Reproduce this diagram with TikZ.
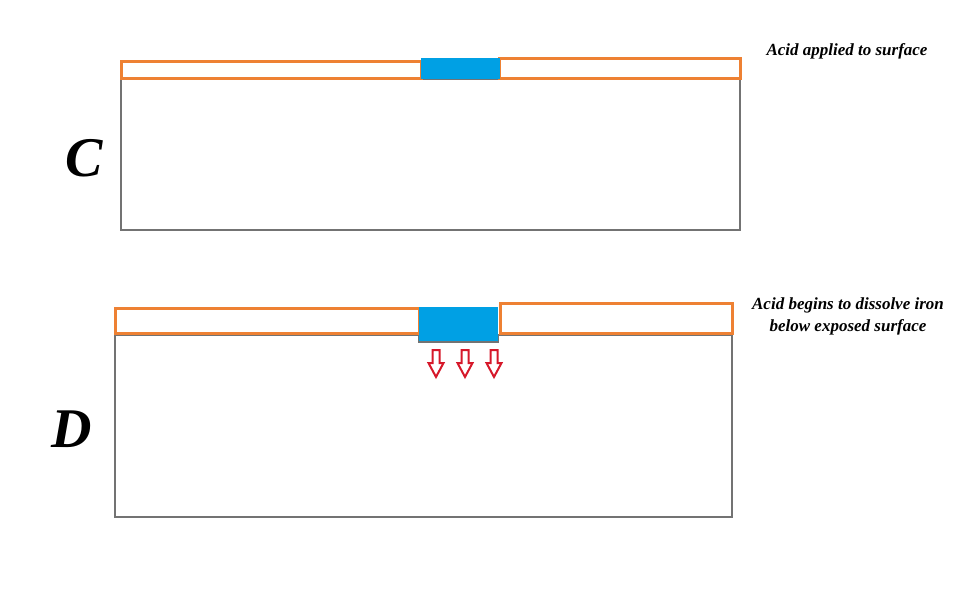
\documentclass[tikz,border=0pt]{standalone}
\usepackage{fontspec}
\setmainfont{Liberation Serif}
\definecolor{acidblue}{HTML}{00A0E4}
\definecolor{coatorange}{HTML}{EE8133}
\definecolor{irongray}{HTML}{737373}
\definecolor{pitred}{HTML}{D6182A}
\begin{document}
\begin{tikzpicture}[x=1pt,y=-1pt,
    iron/.style={draw=irongray,line width=2.8pt},
    coat/.style={draw=coatorange,fill=white,line width=3pt},
    acid/.style={fill=acidblue},
    pit/.style={draw=pitred,fill=white,line width=2pt},
    note/.style={font=\bfseries\itshape\fontsize{17}{22}\selectfont,align=center},
    panel/.style={font=\bfseries\itshape\fontsize{56}{56}\selectfont}]
    \useasboundingbox (0,0) rectangle (980,613);
    % panel C
    \draw[iron] (121,79) rectangle (740,230);
    \draw[coat] (121,61) rectangle (421,78);
    \draw[coat] (499,58) rectangle (740,78);
    \fill[acid] (421,58) rectangle (500,79);
    \node[panel] (labC) at (84,158) {C};
    \node[note] (noteC) at (847,51) {Acid applied to surface};
    % panel D
    \draw[iron] (115,335) -- (419,335) -- (419,342) -- (498,342) -- (498,335)
      -- (732,335) -- (732,517) -- (115,517) -- cycle;
    \draw[coat] (115,308) rectangle (419,333);
    \draw[coat] (500,303) rectangle (732,333);
    \fill[acid] (419,307) rectangle (498,341);
    \foreach \x in {436,465,494}
      \draw[pit] (\x-3.5,350) -- (\x+3.5,350) -- (\x+3.5,363) -- (\x+7.5,363)
        -- (\x,377) -- (\x-7.5,363) -- (\x-3.5,363) -- cycle;
    \node[panel] (labD) at (72,429) {D};
    \node[note] (noteD) at (848,316) {Acid begins to dissolve iron\\below exposed surface};
\end{tikzpicture}
\end{document}
